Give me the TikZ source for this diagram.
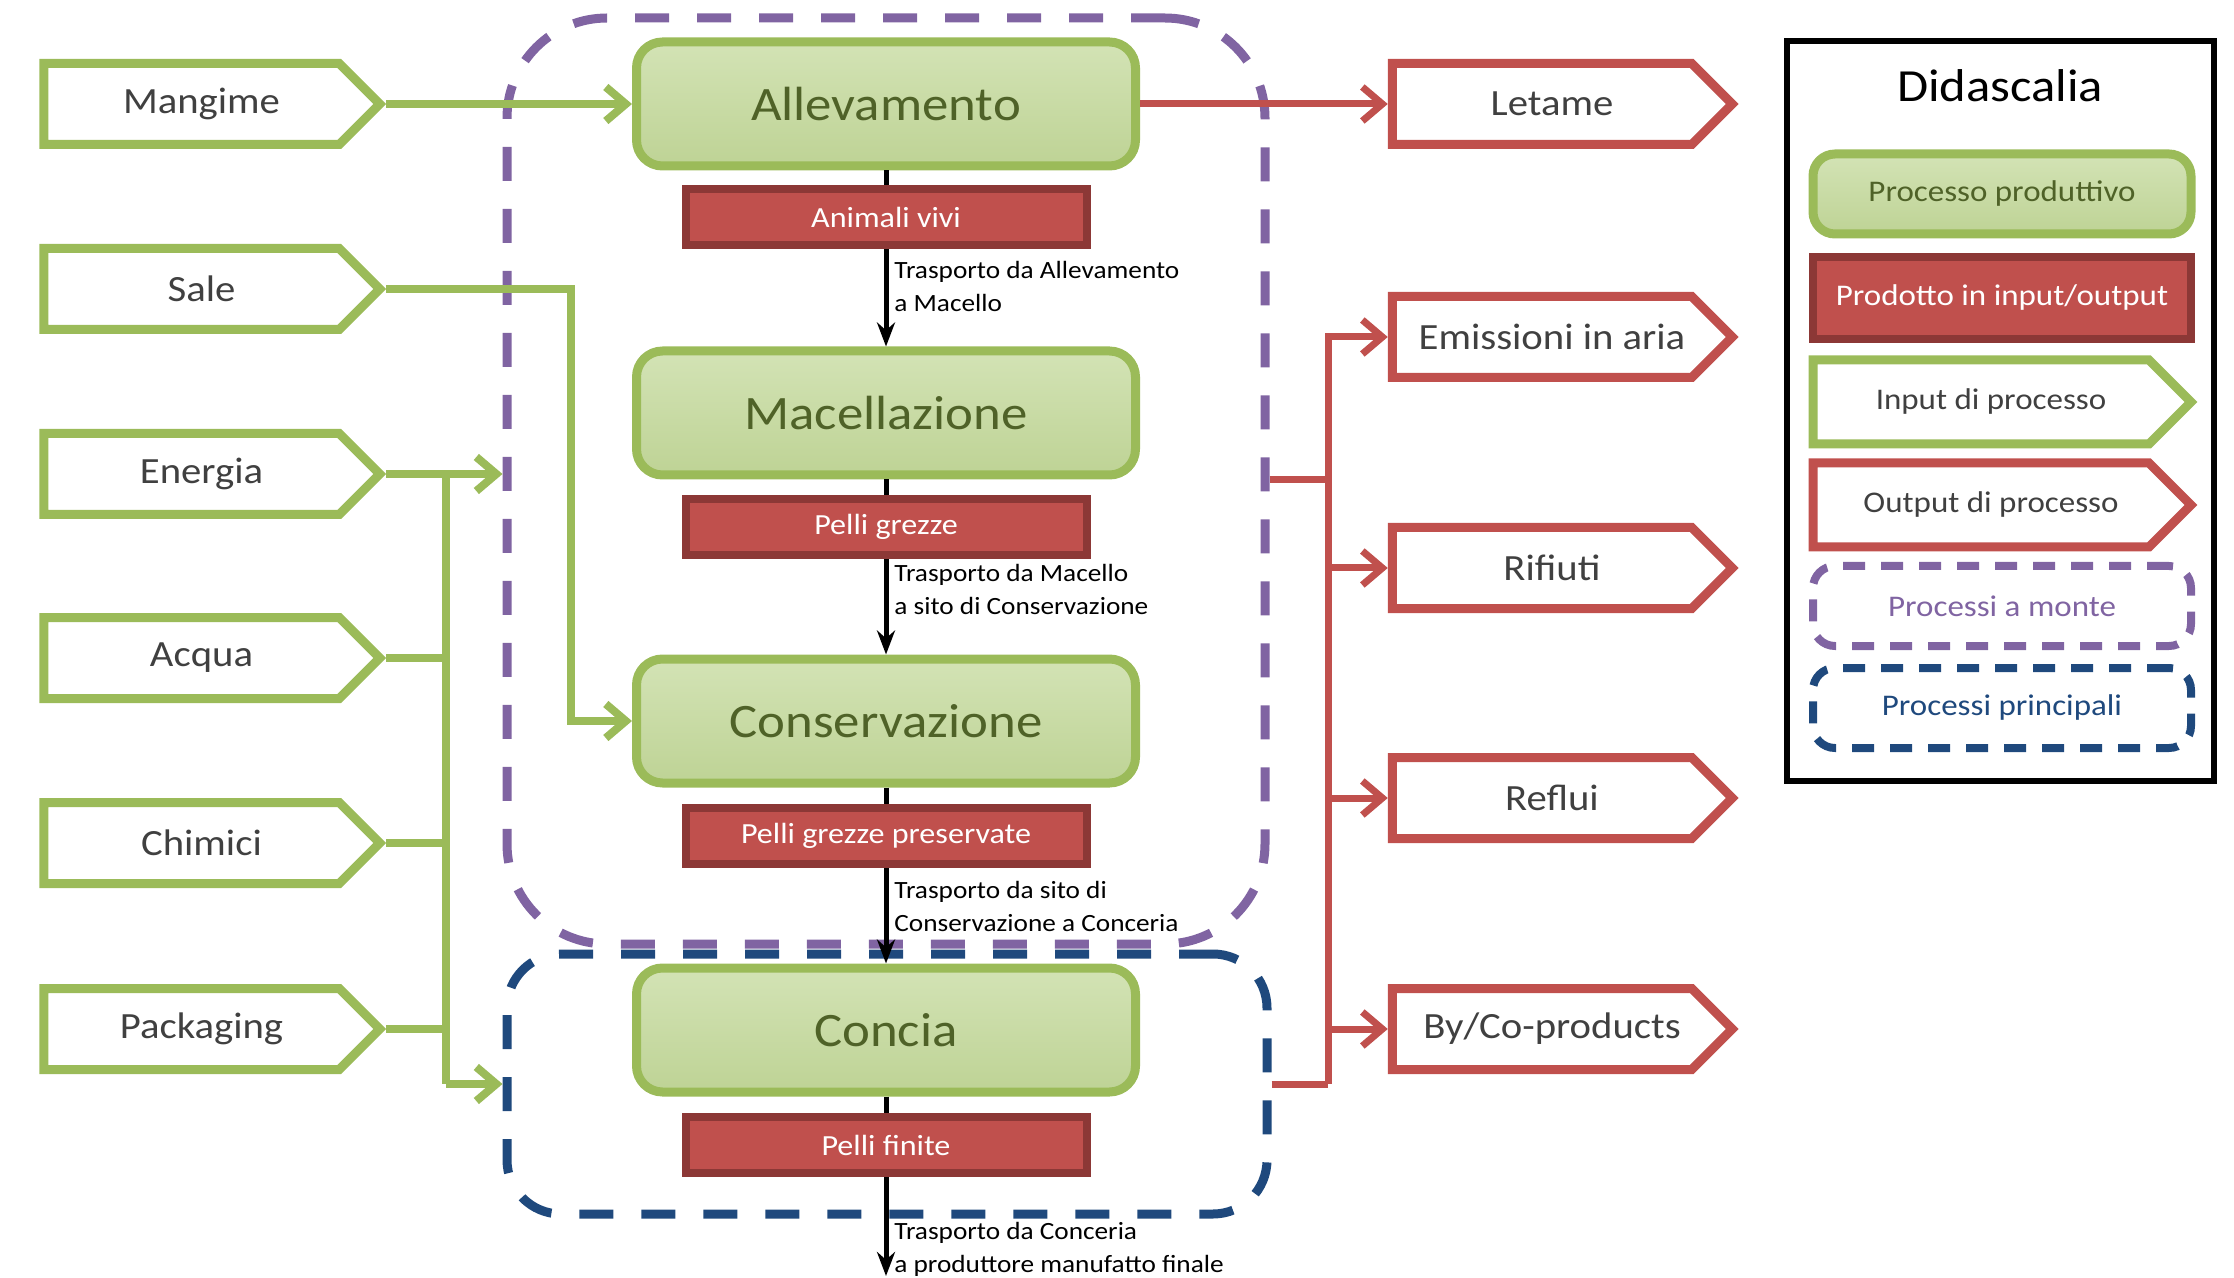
\documentclass[tikz,border=0pt]{standalone}
\usepackage{fontspec}
\setmainfont{Carlito}[FakeStretch=1.1]
\usetikzlibrary{arrows.meta,shapes.symbols,calc}
\definecolor{ingreen}{HTML}{9BBB59}
\definecolor{procfillA}{HTML}{D3E3B5}
\definecolor{procfillB}{HTML}{BED395}
\definecolor{proctext}{HTML}{4F6228}
\definecolor{redfill}{HTML}{C0504D}
\definecolor{redborder}{HTML}{8C3836}
\definecolor{outred}{HTML}{C0504D}
\definecolor{mpurple}{HTML}{8064A2}
\definecolor{mblue}{HTML}{1F497D}
\definecolor{dgray}{HTML}{404040}
\begin{document}
\begin{tikzpicture}[x=0.5pt,y=-0.5pt,
  procbox/.style={rectangle, rounded corners=13pt, draw=ingreen, line width=4.5pt,
    top color=procfillA, bottom color=procfillB, minimum width=249.5pt, minimum height=62pt,
    text=proctext, font=\fontsize{24}{28}\selectfont, inner sep=0pt},
  prodbox/.style={rectangle, draw=redborder, fill=redfill, line width=4pt,
    minimum width=200.5pt, minimum height=28pt, text=white,
    font=\fontsize{14.6}{17}\selectfont, inner sep=0pt},
  inbox/.style={signal, signal to=east, signal pointer angle=90, draw=ingreen, fill=white,
    line width=4.5pt, minimum width=168pt, minimum height=40.5pt, text=dgray,
    font=\fontsize{18.5}{22}\selectfont, inner sep=0pt,
    execute at begin node={\hspace*{10pt}}},
  outbox/.style={inbox, draw=outred, minimum width=170pt},
  region/.style={rectangle, line width=4.5pt, dash pattern=on 17pt off 14pt},
  gline/.style={draw=ingreen, line width=4pt},
  garrow/.style={gline, -{Straight Barb[length=10pt,width=17pt]}},
  rline/.style={draw=outred, line width=3.5pt},
  rarrow/.style={rline, -{Straight Barb[length=10pt,width=17pt]}},
  barrow/.style={draw=black, line width=2.5pt, -{Stealth[length=12pt,width=9pt]}},
  tlabel/.style={anchor=west, align=left, inner sep=0pt, font=\fontsize{12.4}{16.5}\selectfont},
  legitem/.style={minimum width=189pt, minimum height=40pt, font=\fontsize{15}{18}\selectfont},
  legdash/.style={rectangle, rounded corners=11pt, line width=4pt, dash pattern=on 11pt off 8pt, inner sep=0pt}
]
\useasboundingbox (0,0) rectangle (2234,1278);

% regions
\node[region, draw=mpurple, rounded corners=50pt, minimum width=379pt, minimum height=463pt] (monte) at (886,481) {};
\node[region, draw=mblue, rounded corners=27pt, minimum width=380pt, minimum height=130pt] (principali) at (887,1084) {};

% processes
\node[procbox] (allev) at (886,104) {Allevamento};
\node[procbox] (macel) at (886,413) {Macellazione};
\node[procbox] (conserv) at (886,721) {Conservazione};
\node[procbox] (concia) at (886,1030) {Concia};

% inputs
\node[inbox] (mangime) at (191.5,104) {Mangime};
\node[inbox] (sale) at (191.5,289) {Sale};
\node[inbox] (energia) at (191.5,474) {Energia};
\node[inbox] (acqua) at (191.5,658) {Acqua};
\node[inbox] (chimici) at (191.5,843) {Chimici};
\node[inbox] (packaging) at (191.5,1029) {Packaging};

% outputs
\node[outbox] (letame) at (1542,104) {Letame};
\node[outbox] (emissioni) at (1542,337) {Emissioni in aria};
\node[outbox] (rifiuti) at (1542,568) {Rifiuti};
\node[outbox] (reflui) at (1542,798) {Reflui};
\node[outbox] (byco) at (1542,1029) {By/Co-products};

% green connectors
\draw[garrow] (mangime.east) -- (allev.west);
\coordinate (saleturn) at (571,721);
\draw[garrow] (sale.east) -| (saleturn) -- (conserv.west);
\coordinate (ebus) at (446,474);
\draw[garrow] (energia.east) -- (energia.east -| monte.west);
\draw[gline] (ebus) -- (ebus |- principali.west);
\draw[garrow] (ebus |- principali.west) -- (principali.west);
\draw[gline] (acqua.east) -- (acqua.east -| ebus);
\draw[gline] (chimici.east) -- (chimici.east -| ebus);
\draw[gline] (packaging.east) -- (packaging.east -| ebus);

% red connectors
\draw[rarrow] (allev.east) -- (letame.west);
\coordinate (rbus) at (1328,480);
\draw[rline] (rbus -| monte.east) -- (rbus);
\draw[rline] (principali.east) -- (principali.east -| rbus);
\draw[rarrow] (principali.east -| rbus) |- (emissioni.west);
\draw[rarrow] (rifiuti.west -| rbus) -- (rifiuti.west);
\draw[rarrow] (reflui.west -| rbus) -- (reflui.west);
\draw[rarrow] (byco.west -| rbus) -- (byco.west);

% black flow
\coordinate (endpt) at (886,1276);
\draw[barrow] (allev.south) -- (macel.north);
\draw[barrow] (macel.south) -- (conserv.north);
\draw[barrow] (conserv.south) -- (concia.north);
\draw[barrow] (concia.south) -- (endpt);

% products
\node[prodbox] (p1) at (886,217) {Animali vivi};
\node[prodbox] (p2) at (886,527) {Pelli grezze};
\node[prodbox] (p3) at (886,836) {Pelli grezze preservate};
\node[prodbox] (p4) at (886,1145) {Pelli finite};

% transport labels
\node[tlabel] (t1) at (894,286) {Trasporto da Allevamento\\a Macello};
\node[tlabel] (t2) at (894,589) {Trasporto da Macello\\a sito di Conservazione};
\node[tlabel] (t3) at (894,906) {Trasporto da sito di\\Conservazione a Conceria};
\node[tlabel] (t4) at (894,1249) {Trasporto da Conceria\\a produttore manufatto finale};

% legend
\node[draw=black, line width=3pt, minimum width=213.5pt, minimum height=370pt] (legend) at (2000.5,411) {};
\node[font=\fontsize{23}{28}\selectfont, inner sep=0pt] (ltitle) at (2000,86) {Didascalia};
\node[procbox, legitem, rounded corners=11pt] (lproc) at (2002,194) {Processo produttivo};
\node[prodbox, legitem, minimum height=41pt] (lprod) at (2002,298) {Prodotto in input/output};
\node[inbox, legitem, minimum height=42pt] (linput) at (1981,402) {Input di processo};
\node[outbox, legitem, minimum height=42pt] (loutput) at (1981,505) {Output di processo};
\node[legdash, legitem, draw=mpurple, text=mpurple] (lmonte) at (2002,606) {Processi a monte};
\node[legdash, legitem, draw=mblue, text=mblue] (lprinc) at (2002,708) {Processi principali};
\end{tikzpicture}
\end{document}
